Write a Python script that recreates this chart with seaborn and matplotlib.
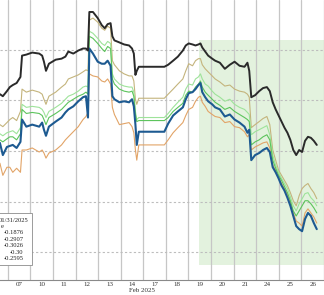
import numpy as np
import pandas as pd
import matplotlib
matplotlib.use("Agg")
import matplotlib.pyplot as plt
from matplotlib.patches import Rectangle
import seaborn as sns

# ---------------- data ----------------
# time in trading-day units (0 = start of Feb 07 session)
time = [-0.35, -0.22, -0.04, 0.09, 0.22, 0.39, 0.56,
        0.63, 0.82, 1.08, 1.39, 1.52, 1.60, 1.69, 1.82, 2.12, 2.38, 2.55, 2.68, 2.90, 3.12, 3.33, 3.46, 3.55,
        3.61, 3.77, 3.98, 4.16, 4.29, 4.42, 4.55, 4.63, 4.72, 4.94, 5.15, 5.37, 5.50, 5.58, 5.65, 5.71, 5.80,
        6.93, 7.10, 7.32, 7.53, 7.75, 7.88, 8.01, 8.18, 8.31, 8.44, 8.53, 8.61, 8.74, 8.87, 9.05, 9.18, 9.39,
        9.61, 9.83, 10.04, 10.26, 10.48, 10.61, 10.69,
        10.78, 10.95, 11.13, 11.30, 11.47, 11.60, 11.73, 11.86, 11.99, 12.12, 12.25, 12.38, 12.51, 12.64,
        12.77, 12.90, 13.03, 13.16, 13.29, 13.42, 13.55, 13.68]

black = [56, 54, 59, 63, 65, 67, 73,
         94, 95, 97, 96, 94, 88, 79, 86, 90, 91, 93, 98, 96, 99, 101, 101, 99,
         137, 137, 131, 124, 121, 125, 126, 113, 109, 107, 105, 104, 101, 96, 75, 79, 83,
         83, 85, 89, 93, 99, 104, 106, 105, 104, 105, 106, 102, 98, 94, 91, 89, 87, 81, 85, 88, 84, 83, 87, 79,
         53, 55, 59, 62, 63, 59, 48, 41, 35, 29, 23, 18, 11, 1, -4, 1, -1, 10, 14, 13, 10, 6]
tan = [26, 24, 28, 31, 33, 30, 39,
       61, 58, 60, 58, 56, 51, 46, 54, 58, 63, 66, 71, 73, 75, 78, 80, 79,
       129, 131, 127, 121, 119, 123, 121, 89, 85, 79, 76, 74, 74, 69, 51, 46, 52,
       52, 56, 61, 66, 71, 79, 86, 84, 89, 91, 91, 85, 81, 78, 74, 71, 68, 64, 65, 61, 59, 58, 56, 53,
       23, 26, 29, 32, 34, 26, 1, -9, -19, -24, -29, -34, -41, -49, -54, -44, -37, -34, -32, -37, -41, -47]
light_green = [17, 15, 18, 19, 20, 17, 23,
               46, 43, 44, 43, 41, 38, 33, 39, 43, 47, 51, 54, 56, 59, 63, 64, 63,
               118, 116, 111, 106, 104, 108, 106, 76, 71, 66, 64, 63, 63, 58, 39, 31, 33,
               33, 37, 43, 48, 53, 61, 66, 65, 71, 73, 76, 71, 66, 64, 59, 56, 53, 49, 51, 46, 43, 41, 38, 36,
               16, 19, 21, 23, 25, 16, -4, -14, -21, -27, -32, -37, -45, -54, -59, -52, -47, -42, -41, -46, -49, -54]
green = [11, 9, 12, 14, 14, 11, 17,
         41, 37, 38, 37, 35, 31, 26, 33, 37, 41, 45, 48, 51, 54, 56, 58, 56,
         113, 111, 106, 101, 98, 103, 101, 71, 66, 61, 59, 58, 59, 54, 36, 29, 30,
         30, 33, 39, 43, 47, 55, 59, 58, 63, 66, 69, 63, 58, 55, 51, 48, 45, 41, 43, 39, 36, 33, 31, 29,
         6, 9, 11, 14, 16, 11, -9, -17, -24, -29, -35, -41, -49, -59, -64, -59, -54, -49, -49, -52, -56, -61]
blue = [8, -4, 4, 5, 6, 3, 9,
        31, 24, 26, 24, 28, 21, 15, 24, 29, 33, 38, 41, 44, 49, 53, 54, 33,
        101, 96, 88, 86, 86, 89, 84, 54, 51, 48, 49, 48, 51, 44, 26, 6, 19,
        19, 27, 35, 39, 43, 51, 57, 58, 61, 65, 67, 58, 53, 49, 46, 43, 41, 34, 36, 31, 28, 24, 18, 21,
        -9, -4, -2, 1, 3, -1, -16, -21, -27, -34, -39, -46, -54, -64, -74, -77, -79, -67, -61, -64, -71, -77]
orange = [-12, -24, -16, -16, -21, -17, -21,
          1, 1, 3, -1, 1, -2, -7, -2, 1, 6, 11, 14, 19, 24, 31, 34, 38,
          76, 74, 73, 69, 68, 71, 66, 43, 36, 26, 27, 28, 24, 18, 1, -9, 6,
          6, 11, 18, 23, 28, 35, 41, 43, 49, 53, 54, 48, 44, 39, 36, 34, 33, 28, 29, 24, 23, 19, 14, 16,
          1, 4, 6, 8, 9, 3, -14, -19, -26, -32, -37, -43, -51, -61, -69, -71, -74, -61, -57, -61, -65, -71]

day_labels = ["07", "10", "11", "12", "13", "14", "17", "18", "19", "20", "21", "24", "25", "26"]
month_label = "Feb 2025"
legend_date = "01/31/2025"
legend_head = "e"
legend_values = ["-0.1876", "-0.2907", "-0.3026", "-0.30", "-0.2595"]
highlight_start = 8.48
highlight_low, highlight_high = -112, 109

series = {"orange": orange, "tan": tan, "light_green": light_green,
          "green": green, "blue": blue, "black": black}
colors = {"orange": "#e2a467", "tan": "#c4b47c", "light_green": "#9ee39a",
          "green": "#5cc45c", "blue": "#1d5a91", "black": "#2a2a2a"}
widths = {"orange": 0.8, "tan": 0.8, "light_green": 0.8, "green": 0.8,
          "blue": 1.5, "black": 1.4}

df = pd.concat([pd.DataFrame({"time": time, "value": v, "series": k})
                for k, v in series.items()], ignore_index=True)

# ---------------- plot ----------------
sns.set_style("white")
plt.rcParams["font.family"] = ["Liberation Serif", "DejaVu Serif"]

W, H = 324, 295
fig = plt.figure(figsize=(W / 100, H / 100), dpi=100)
ax = fig.add_axes([0, 15 / H, 1, 280 / H])

ax.fill_between([highlight_start, 15], highlight_low, highlight_high,
                color="#e3f2de", lw=0, zorder=0)

for name in series:
    sub = df[df["series"] == name]
    sns.lineplot(data=sub, x="time", y="value", ax=ax, color=colors[name],
                 lw=widths[name], estimator=None, sort=False, legend=False,
                 zorder=3 if name in ("black", "blue") else 2)

ax.set_xlim(-0.346, 13.68)
ax.set_ylim(-127.1, 148.8)

ax.set_xticks(range(0, 15))
ax.set_xticklabels([])
ax.set_xticks([i + 0.5 for i in range(len(day_labels))], minor=True)
ax.set_xticklabels(day_labels, minor=True, fontsize=5, color="#333333")
ax.tick_params(axis="x", which="both", length=0, pad=1.2)
ax.set_yticks([-100, -50, 0, 50, 100])
ax.set_yticklabels([])
ax.tick_params(axis="y", length=0)
ax.grid(axis="x", which="major", color="#c6c6c6", lw=0.9, zorder=1)
ax.grid(axis="y", which="major", color="#bdbdbd", lw=0.8, ls=(0, (2, 2)), zorder=1)
ax.set_axisbelow(True)
ax.set_xlabel("")
ax.set_ylabel("")
for s in ("top", "left", "right"):
    ax.spines[s].set_visible(False)
ax.spines["bottom"].set_color("#8a8a8a")
ax.spines["bottom"].set_linewidth(0.8)

fig.text(142 / W, 1 - 290 / H, month_label, ha="center", va="center",
         fontsize=5, color="#333333")

# legend box (partially cut at left)
ax.add_patch(Rectangle((-1 / W, (280 - 265) / 280), 33 / W, 52 / 280,
                       transform=ax.transAxes, facecolor="white",
                       edgecolor="#8c8c8c", lw=0.6, zorder=6))
fig.text(-1 / W, 1 - 220 / H, legend_date, ha="left", va="center",
         fontsize=4.7, color="#222222", zorder=7)
fig.text(0.5 / W, 1 - 226 / H, legend_head, ha="left", va="center",
         fontsize=4.7, color="#222222", zorder=7)
for i, val in enumerate(legend_values):
    fig.text(23.5 / W, 1 - (232.5 + 6.6 * i) / H, val, ha="right", va="center",
             fontsize=4.7, color="#222222", zorder=7)

fig.savefig("out.png", dpi=100)
